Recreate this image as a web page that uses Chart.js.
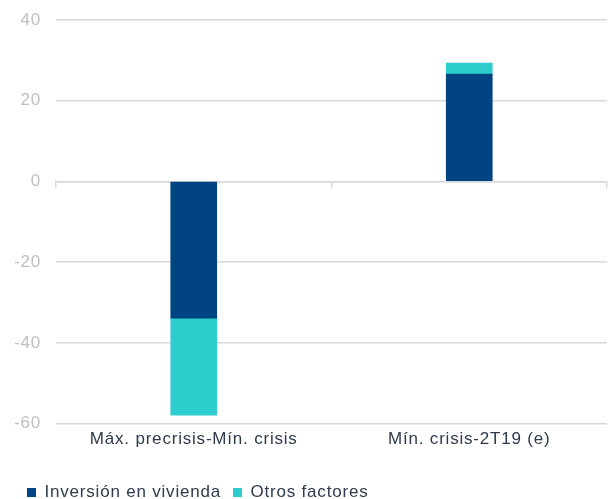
<!DOCTYPE html>
<html>
<head>
<meta charset="utf-8">
<script src="https://cdn.jsdelivr.net/npm/chart.js@4.4.1/dist/chart.umd.min.js"></script>
<style>
  html, body { margin: 0; padding: 0; background: #fff; }
  #wrap { width: 609px; height: 499px; }
</style>
</head>
<body>
<div id="wrap"><canvas id="myChart" width="609" height="499"></canvas></div>
<script>
const categories = ['Máx. precrisis-Mín. crisis', 'Mín. crisis-2T19 (e)'];
const inversionVivienda = [-33.9, 26.6];
const otrosFactores = [-24.0, 2.7];
const yTicks = [40, 20, 0, -20, -40, -60];

const gridColor = '#D9D9D9';
const textDark = '#2E3B4C';
const fontFamily = 'Liberation Sans, Arial, sans-serif';

// the original text is slightly spaced out
const spacing = {
  id: 'spacing',
  beforeUpdate(chart) { chart.ctx.letterSpacing = '0.8px'; },
  beforeDraw(chart) { chart.ctx.letterSpacing = '0.8px'; }
};

const ctx = document.getElementById('myChart').getContext('2d');
const myChart = new Chart(ctx, {
  type: 'bar',
  plugins: [spacing],
  data: {
    labels: categories,
    datasets: [{
      label: 'Inversión en vivienda',
      data: inversionVivienda,
      backgroundColor: '#004481',
      barThickness: 46
    }, {
      label: 'Otros factores',
      data: otrosFactores,
      backgroundColor: '#2DCCCD',
      barThickness: 46
    }]
  },
  options: {
    responsive: false,
    animation: false,
    layout: {
      padding: { left: 15, right: 2, top: 20, bottom: -12 }
    },
    plugins: {
      legend: {
        position: 'bottom',
        align: 'start',
        labels: {
          boxWidth: 9,
          boxHeight: 9,
          padding: 12,
          color: textDark,
          font: { family: fontFamily, size: 17 }
        }
      },
      tooltip: { enabled: false }
    },
    scales: {
      x: {
        stacked: true,
        grid: { display: false, drawTicks: false },
        border: { display: false },
        ticks: {
          color: textDark,
          padding: 6,
          font: { family: fontFamily, size: 17 }
        },
        afterFit: (axis) => { axis.height += 16; }
      },
      x2: {
        type: 'category',
        position: { y: 0 },
        grid: {
          offset: true,
          drawOnChartArea: false,
          drawTicks: true,
          tickLength: 6,
          color: gridColor,
          lineWidth: 1.5
        },
        border: { display: true, color: gridColor, width: 1.5 },
        ticks: { display: false }
      },
      y: {
        stacked: true,
        min: -60,
        max: 40,
        afterBuildTicks: (axis) => {
          axis.ticks = yTicks.map(v => ({ value: v }));
        },
        afterFit: (axis) => {
          axis.width = 41;
          axis.paddingTop = 0;
        },
        grid: {
          color: gridColor,
          lineWidth: 1.5,
          drawTicks: false
        },
        border: { display: false },
        ticks: {
          color: '#BFBFBF',
          padding: 15,
          font: { family: fontFamily, size: 17 }
        }
      }
    }
  }
});
</script>
</body>
</html>
